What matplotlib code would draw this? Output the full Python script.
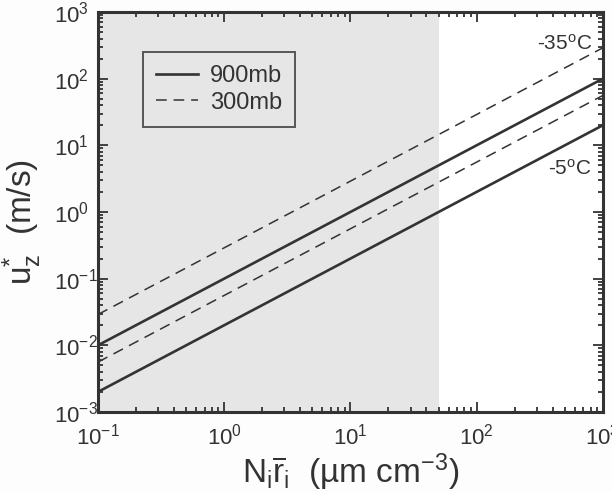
import numpy as np
import matplotlib
matplotlib.use("Agg")
import matplotlib.pyplot as plt

plt.rcParams['font.family'] = ['Liberation Sans', 'DejaVu Sans']
plt.rcParams['mathtext.fontset'] = 'custom'
plt.rcParams['mathtext.rm'] = 'Liberation Sans'
plt.rcParams['mathtext.it'] = 'Liberation Sans:italic'
plt.rcParams['mathtext.sf'] = 'Liberation Sans'

# end points of each line (x = N_i r_i, y = u_z*)
x_ends = [0.1, 1000.0]
y_900_warm = [2.0e-3, 20.0]     # -5 C, 900 mb
y_900_cold = [1.0e-2, 100.0]    # -35 C, 900 mb
y_300_warm = [5.6e-3, 56.0]     # -5 C, 300 mb
y_300_cold = [2.9e-2, 290.0]    # -35 C, 300 mb
shade_max = 50.0

ink = '#333333'

fig = plt.figure(figsize=(6.12, 4.92), dpi=100)
fig.patch.set_facecolor('#fdfdfd')
ax = fig.add_axes([0.160, 0.1626, 0.825, 0.813])

ax.axvspan(0.1, shade_max, color='#e6e6e6', zorder=0, lw=0)

l1, = ax.plot(x_ends, y_900_cold, color=ink, lw=1.9, label='900mb')
ax.plot(x_ends, y_900_warm, color=ink, lw=1.9)
l2, = ax.plot(x_ends, y_300_cold, color=ink, lw=1.1, ls=(0, (7, 4.5)), label='300mb')
ax.plot(x_ends, y_300_warm, color=ink, lw=1.1, ls=(0, (7, 4.5)))

ax.set_xscale('log')
ax.set_yscale('log')
ax.set_xlim(0.1, 1000)
ax.set_ylim(1e-3, 1e3)
ax.set_facecolor('white')

for s in ax.spines.values():
    s.set_linewidth(2.2)
    s.set_color(ink)
ax.tick_params(which='both', direction='in', top=True, right=True,
               colors=ink, labelsize=16, width=1.3)
ax.tick_params(which='major', length=7)
ax.tick_params(which='minor', length=3.5)
ax.tick_params(axis='x', which='major', pad=8)
ax.tick_params(axis='y', which='major', pad=31.5)
ax.set_xticks([0.1, 1, 10, 100, 1000])
ax.set_xticklabels([r'$10^{-1}$', r'$10^{0}$', r'$10^{1}$', r'$10^{2}$', r'$10^{3}$'])
ax.set_yticks([1e-3, 1e-2, 1e-1, 1, 10, 100, 1000])
ax.set_yticklabels([r'$10^{-3}$', r'$10^{-2}$', r'$10^{-1}$', r'$10^{0}$',
                    r'$10^{1}$', r'$10^{2}$', r'$10^{3}$'])
for lbl in ax.get_yticklabels():
    lbl.set_horizontalalignment('left')

ax.set_xlabel(r'N$_{\rm i}\overline{\rm r}_{\rm i}$  (µm cm$^{-3}$)',
              fontsize=24, color=ink, labelpad=2)
ax.set_ylabel(r'u$_{\rm z}^{*}$  (m/s)', fontsize=24, color=ink)
ax.yaxis.set_label_coords(-0.106, 0.475)

ax.text(0.978, 0.905, '-35$^{\\rm o}$C', transform=ax.transAxes, ha='right',
        va='baseline', fontsize=15, color=ink)
ax.text(0.978, 0.594, '-5$^{\\rm o}$C', transform=ax.transAxes, ha='right',
        va='baseline', fontsize=15, color=ink)

leg = ax.legend(handles=[l1, l2], loc='upper left', bbox_to_anchor=(0.089, 0.9),
                borderaxespad=0, fancybox=False, frameon=True, fontsize=17,
                handlelength=1.8, handletextpad=0.5, labelspacing=0.2,
                borderpad=0.55, labelcolor=ink)
leg.get_frame().set_edgecolor(ink)
leg.get_frame().set_linewidth(1.4)
leg.get_frame().set_facecolor('none')

fig.savefig('out.png', dpi=100, facecolor=fig.get_facecolor())
